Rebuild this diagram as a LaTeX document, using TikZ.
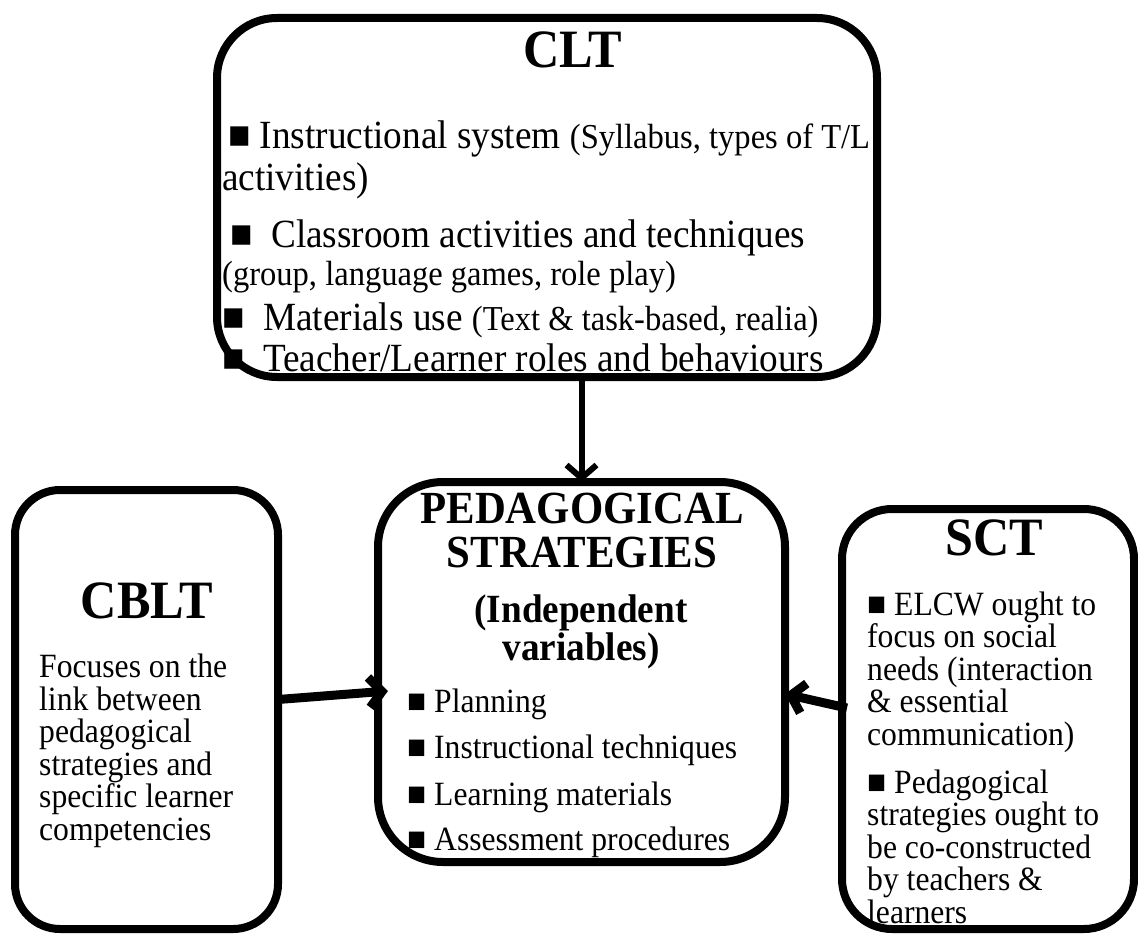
\documentclass[tikz,border=0pt]{standalone}
\usepackage{fontspec}
\setmainfont{Liberation Serif}[FakeStretch=0.93]
\usetikzlibrary{arrows.meta}

\begin{document}
\begin{tikzpicture}[x=1pt, y=-1pt,
    box/.style={draw, line width=8pt, rounded corners=#1, inner sep=0pt, outer sep=0pt, anchor=north west},
    ttl/.style={font=\bfseries\fontsize{54}{54}\selectfont, anchor=base, inner sep=0pt},
    big/.style={font=\fontsize{40}{40}\selectfont, anchor=base west, inner sep=0pt},
    body/.style={font=\fontsize{34}{32.5}\selectfont, anchor=base west, align=left, inner sep=0pt},
    arr/.style={-{Straight Barb[length=13pt, width=30pt]}, line width=#1}]
    \useasboundingbox (0,0) rectangle (1138,934);
    % the four boxes
    \node[box=60pt, minimum width=660pt, minimum height=359pt] (clt) at (217,18) {};
    \node[box=65pt, minimum width=407pt, minimum height=380pt] (ps) at (378,482) {};
    \node[box=45pt, minimum width=263pt, minimum height=439pt] (cblt) at (15,490) {};
    \node[box=50pt, minimum width=292pt, minimum height=420pt] (sct) at (842,509) {};
    % CLT
    \node[ttl] (clt-t) at (573,67) {CLT};
    \node[big] (clt-1) at (228,148) {■ Instructional system {\fontsize{35}{35}\selectfont(Syllabus, types of T/L}};
    \node[big] (clt-2) at (222,190) {activities)};
    \node[big] (clt-3) at (230,247) {■\ \ Classroom activities and techniques};
    \node[big, font=\fontsize{35}{35}\selectfont] (clt-4) at (222,285) {(group, language games, role play)};
    \node[big] (clt-5) at (222,330) {■\ \ Materials use {\fontsize{35}{35}\selectfont(Text \& task-based, realia)}};
    \node[big] (clt-6) at (222,371) {■\ \ Teacher/Learner roles and behaviours};
    % pedagogical strategies
    \node[ttl, font=\bfseries\fontsize{46}{46}\selectfont] (ps-t1) at (582,523) {PEDAGOGICAL};
    \node[ttl, font=\bfseries\fontsize{46}{46}\selectfont] (ps-t2) at (582,567) {STRATEGIES};
    \node[ttl, font=\bfseries\fontsize{40}{40}\selectfont] (ps-t3) at (581,622) {(Independent};
    \node[ttl, font=\bfseries\fontsize{40}{40}\selectfont] (ps-t4) at (581,660) {variables)};
    \node[body] (ps-1) at (407,712) {■ Planning};
    \node[body] (ps-2) at (407,758) {■ Instructional techniques};
    \node[body] (ps-3) at (407,805) {■ Learning materials};
    \node[body] (ps-4) at (407,850) {■ Assessment procedures};
    % CBLT (base = last line)
    \node[ttl] (cblt-t) at (147,618) {CBLT};
    \node[body] (cblt-b) at (39,840) {Focuses on the\\link between\\pedagogical\\strategies and\\specific learner\\competencies};
    % SCT (base = last line)
    \node[ttl] (sct-t) at (994,555) {SCT};
    \node[body] (sct-1) at (867,745) {■ ELCW ought to\\focus on social\\needs (interaction\\\& essential\\communication)};
    \node[body] (sct-2) at (867,923) {■ Pedagogical\\strategies ought to\\be co-constructed\\by teachers \&\\learners};
    % arrows
    \draw[arr=6pt] (clt.south -| ps.north) -- (ps.north);
    \draw[arr=9pt] ([yshift=10pt]cblt.east) -- ([xshift=10pt, yshift=-19pt]ps.west);
    \draw[arr=9pt] ([xshift=5pt, yshift=11pt]sct.west) -- ([yshift=-22pt]ps.east);
\end{tikzpicture}
\end{document}
